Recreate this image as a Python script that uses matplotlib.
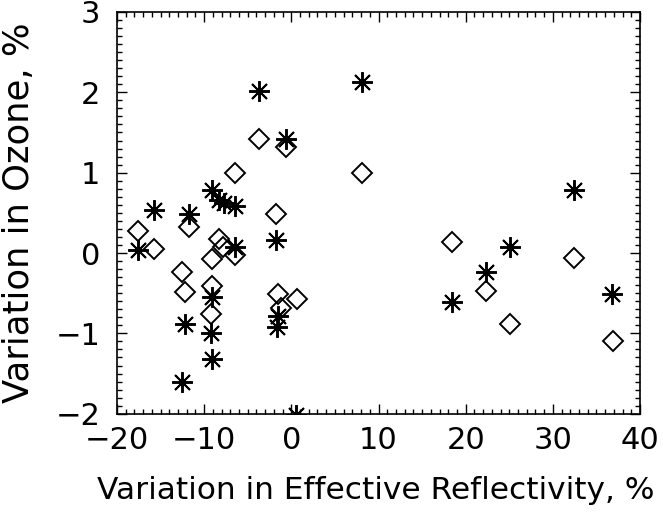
import matplotlib
matplotlib.use("Agg")
import matplotlib.pyplot as plt
from matplotlib.ticker import MultipleLocator

# Variation in effective reflectivity (%) and ozone (%) for the two samples
star_x = [-17.6, -15.7, -12.6, -12.2, -11.75, -9.15, -9.05, -9.2, -9.05, -8.3,
          -7.7, -6.5, -6.5, -3.7, -1.8, -1.5, -1.7, -0.6, 0.5, 8.1,
          18.45, 22.35, 25.1, 32.45, 36.8]
star_y = [0.04, 0.53, -1.61, -0.88, 0.48, 0.78, -0.55, -0.99, -1.32, 0.66,
          0.62, 0.58, 0.07, 2.02, 0.16, -0.78, -0.92, 1.42, -2.02, 2.13,
          -0.61, -0.24, 0.07, 0.78, -0.51]

diamond_x = [-17.55, -15.7, -12.6, -12.2, -11.75, -9.1, -9.05, -9.2, -8.3, -7.8,
             -6.5, -6.5, -3.7, -1.8, -1.5, -1.2, -0.64, 0.6, 8.1,
             18.45, 22.35, 25.1, 32.45, 36.85]
diamond_y = [0.28, 0.05, -0.24, -0.49, 0.32, -0.07, -0.41, -0.76, 0.17, 0.08,
             0.99, -0.02, 1.42, 0.49, -0.51, -0.68, 1.32, -0.57, 1.0,
             0.14, -0.47, -0.88, -0.06, -1.1]

x_label = "Variation in Effective Reflectivity, %"
y_label = "Variation in Ozone, %"

fig = plt.figure(figsize=(6.63, 5.2), dpi=100)
ax = fig.add_axes([0.1765, 0.2044, 0.7888, 0.7726])

ax.plot(diamond_x, diamond_y, linestyle="none", marker="D", markersize=10,
        markerfacecolor="none", markeredgecolor="black", markeredgewidth=1.4)
ax.plot(star_x, star_y, linestyle="none", marker=(8, 2, 0), markersize=15,
        markeredgecolor="black", markeredgewidth=1.4, color="black")

ax.set_xlim(-20, 40)
ax.set_ylim(-2.0, 3.0)
ax.xaxis.set_major_locator(MultipleLocator(10))
ax.xaxis.set_minor_locator(MultipleLocator(1))
ax.yaxis.set_major_locator(MultipleLocator(1))
ax.yaxis.set_minor_locator(MultipleLocator(0.1))

ax.tick_params(which="both", direction="in", top=True, right=True,
               width=1.0, colors="black")
ax.tick_params(which="major", length=7, labelsize=22)
ax.tick_params(axis="x", which="major", pad=9)
ax.tick_params(axis="y", which="major", pad=12)
ax.tick_params(which="minor", length=3.5)
for s in ax.spines.values():
    s.set_linewidth(1.2)

ax.set_xlabel(x_label, fontsize=22.5)
ax.set_ylabel(y_label, fontsize=25.5)
ax.xaxis.set_label_coords(0.494, -0.155)
ax.yaxis.set_label_coords(-0.155, 0.50)

fig.savefig("out.png", dpi=100)
